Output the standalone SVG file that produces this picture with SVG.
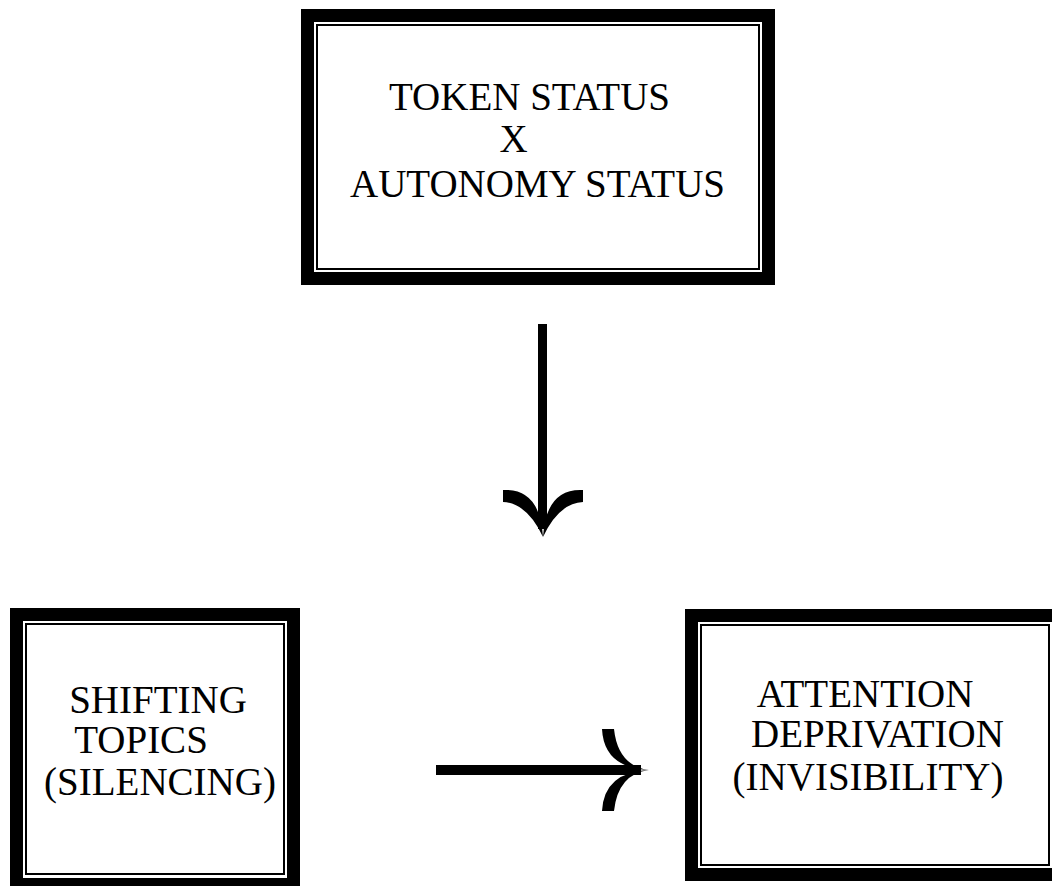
<svg xmlns="http://www.w3.org/2000/svg" width="1052" height="886" viewBox="0 0 1052 886">
<style>
.outer{fill:none;stroke:#000;stroke-width:13}
.inner{fill:none;stroke:#000;stroke-width:2}
.lbl{font-family:"Liberation Serif","Times New Roman",serif;font-size:39px;fill:#000;text-anchor:middle}
.ink{fill:#000}
</style>
<rect width="1052" height="886" fill="#fff"/>
<g id="node-token">
<rect class="outer" x="307.5" y="15.5" width="461" height="263"/>
<rect class="inner" x="317" y="25" width="442" height="244"/>
<text class="lbl" x="529.5" y="110">TOKEN STATUS</text>
<text class="lbl" x="513.5" y="152">X</text>
<text class="lbl" x="537.5" y="197">AUTONOMY STATUS</text>
</g>
<g id="node-shifting">
<rect class="outer" x="16.5" y="614.5" width="277" height="270"/>
<rect class="inner" x="26" y="624" width="258" height="250"/>
<text class="lbl" x="158" y="713">SHIFTING</text>
<text class="lbl" x="141" y="753">TOPICS</text>
<text class="lbl" x="160" y="795">(SILENCING)</text>
</g>
<g id="node-attention">
<rect class="outer" x="691.5" y="615.5" width="367" height="259"/>
<rect class="inner" x="701" y="625" width="348" height="240"/>
<text class="lbl" x="865" y="707">ATTENTION</text>
<text class="lbl" x="877.5" y="747">DEPRIVATION</text>
<text class="lbl" x="868" y="790">(INVISIBILITY)</text>
</g>
<g id="connectors">
<g id="arrow-down">
<rect class="ink" x="538" y="324" width="9" height="205"/>
<path class="ink" d="M503,490 Q540,488 543,537 Q527,503 503,502 Z"/>
<path class="ink" d="M583,490 Q546,488 543,537 Q559,503 583,502 Z"/>
</g>
<g id="arrow-right">
<rect class="ink" x="436" y="765" width="205" height="10"/>
<path class="ink" d="M602,729 L614,729 Q618,766 649,770 Q604,768 602,729 Z"/>
<path class="ink" d="M602,811 L614,811 Q618,774 649,770 Q604,772 602,811 Z"/>
</g>
</g>
</svg>
